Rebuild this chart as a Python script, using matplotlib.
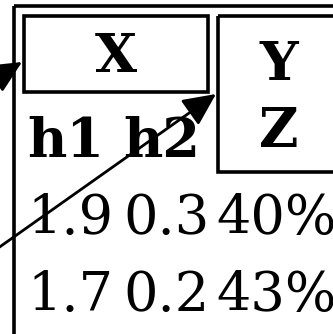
import matplotlib
matplotlib.use("Agg")
import matplotlib.pyplot as plt
from matplotlib.patches import Rectangle

# ---- data ----
box_left_label = "X"
box_right_labels = ["Y", "Z"]
header_labels = ["h1", "h2"]
row1_values = ["1.9", "0.3", "40%"]
row2_values = ["1.7", "0.2", "43%"]

W, H = 333, 334
fig = plt.figure(figsize=(W / 100, H / 100), dpi=100)
ax = fig.add_axes([0, 0, 1, 1])
ax.set_xlim(0, W)
ax.set_ylim(H, 0)
ax.axis("off")

lw = 2.6
# outer frame (extends beyond the crop)
ax.add_patch(Rectangle((13.5, 5.5), 400, 400, fill=False, lw=lw, ec="black"))
# X box
ax.add_patch(Rectangle((23.5, 15.5), 184, 76, fill=False, lw=lw, ec="black"))
# Y/Z box
ax.add_patch(Rectangle((217.5, 15.5), 125, 156, fill=False, lw=lw, ec="black"))

fs = 39
serif = "DejaVu Serif"
ax.text(115.5, 73, box_left_label, ha="center", va="baseline", fontsize=fs,
        fontweight="bold", family=serif)
for lab, yb in zip(box_right_labels, [81, 147]):
    ax.text(279, yb, lab, ha="center", va="baseline", fontsize=fs,
            fontweight="bold", family=serif)

col_x = [27, 123, 216]
for lab, x in zip(header_labels, col_x):
    ax.text(x, 157, lab, ha="left", va="baseline", fontsize=fs,
            fontweight="bold", family=serif)
for vals, yb in [(row1_values, 234), (row2_values, 311)]:
    for v, x in zip(vals, col_x):
        ax.text(x, yb, v, ha="left", va="baseline", fontsize=fs, family=serif)

aprops = dict(arrowstyle="-|>,head_length=0.4,head_width=0.19", lw=2.0,
              color="black", shrinkA=0, shrinkB=0, mutation_scale=50)
ax.annotate("", xy=(22, 62), xytext=(-40, 100), arrowprops=aprops,
            annotation_clip=False)
ax.annotate("", xy=(216, 94), xytext=(-40, 275), arrowprops=aprops,
            annotation_clip=False)

fig.savefig("out.png", dpi=100)
